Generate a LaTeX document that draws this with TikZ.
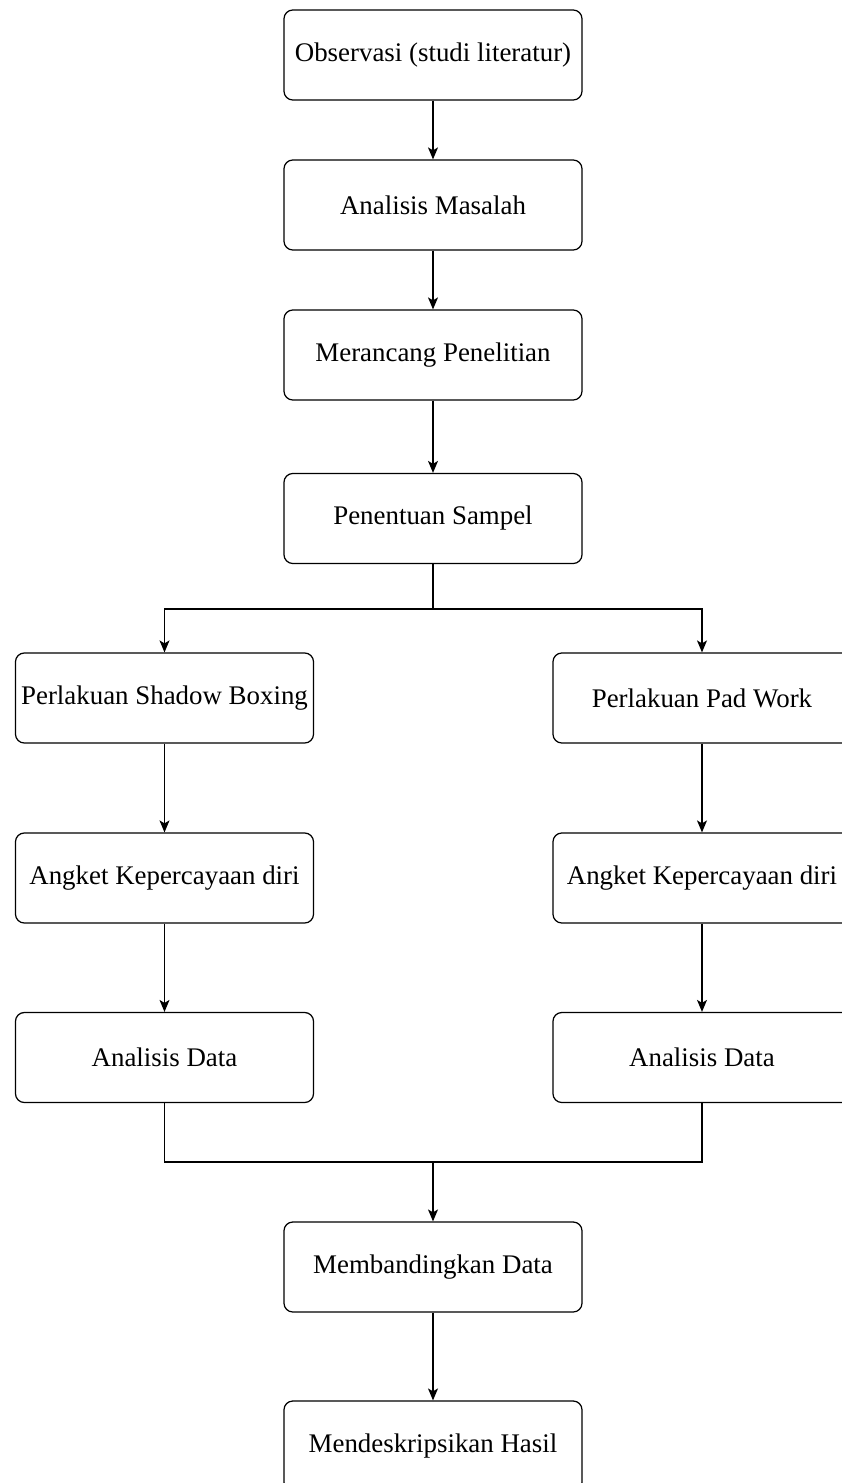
\documentclass[tikz,border=0pt]{standalone}
\usepackage{fontspec}
\setmainfont{Liberation Serif}
\usepackage{tikz}
\usetikzlibrary{arrows.meta,positioning}

\begin{document}
\begin{tikzpicture}[
  box/.style={rectangle, draw, line width=0.7pt, minimum width=5.96cm, minimum height=1.8cm, inner sep=1pt, align=center, font=\fontsize{15.3}{18}\selectfont, rounded corners=5pt},
  arr/.style={-{Stealth[length=2.4mm, width=2mm, inset=0.6mm]}, line width=0.7pt},
  line/.style={line width=0.7pt}
]
  \useasboundingbox (0,0) rectangle (16.84,-29.66);

  % middle column
  \node[box] (obs) at (8.66,-1.1) {Observasi (studi literatur)};
  \node[box] (masalah) at (8.66,-4.1) {Analisis Masalah};
  \node[box] (rancang) at (8.66,-7.1) {Merancang Penelitian};
  \node[box] (sampel) at (8.66,-10.37) {Penentuan Sampel};

  % two branches
  \node[box] (shadow) at (3.29,-13.96) {Perlakuan Shadow Boxing};
  \node[box] (angketA) at (3.29,-17.56) {Angket Kepercayaan diri};
  \node[box] (dataA) at (3.29,-21.15) {Analisis Data};
  \node[box] (pad) at (14.04,-13.96) {Perlakuan Pad Work};
  \node[box] (angketB) at (14.04,-17.56) {Angket Kepercayaan diri};
  \node[box] (dataB) at (14.04,-21.15) {Analisis Data};

  \node[box] (banding) at (8.66,-25.34) {Membandingkan Data};
  \node[box] (hasil) at (8.66,-28.92) {Mendeskripsikan Hasil};

  \coordinate (split) at (8.66,-12.18);
  \coordinate (merge) at (8.66,-23.24);

  \draw[arr] (obs) -- (masalah);
  \draw[arr] (masalah) -- (rancang);
  \draw[arr] (rancang) -- (sampel);
  \draw[line] (sampel) -- (split);
  \draw[arr] (split) -| (shadow);
  \draw[arr] (split) -| (pad);
  \draw[arr] (shadow) -- (angketA);
  \draw[arr] (angketA) -- (dataA);
  \draw[arr] (pad) -- (angketB);
  \draw[arr] (angketB) -- (dataB);
  \draw[line] (dataA) |- (merge);
  \draw[line] (dataB) |- (merge);
  \draw[arr] (merge) -- (banding);
  \draw[arr] (banding) -- (hasil);
\end{tikzpicture}
\end{document}
